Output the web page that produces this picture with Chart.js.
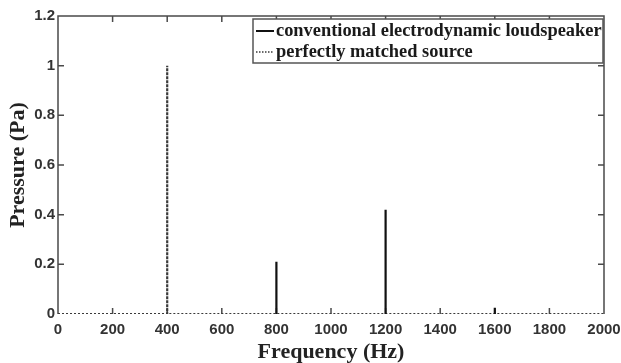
<!DOCTYPE html>
<html>
<head>
<meta charset="utf-8">
<script src="https://cdn.jsdelivr.net/npm/chart.js@4"></script>
<style>
html,body{margin:0;padding:0;background:#fff;}
#wrap{width:621px;height:363px;position:relative;}
</style>
</head>
<body>
<div id="wrap"><canvas id="c" width="621" height="363"></canvas></div>
<script>
// ---- data ----
const seriesNames = ['conventional electrodynamic loudspeaker', 'perfectly matched source'];
const conventionalFreqs = [800, 1200, 1600];
const conventionalAmps  = [0.21, 0.42, 0.025];
const matchedFreqs = [400];
const matchedAmps  = [1.0];
const xTicks = [0, 200, 400, 600, 800, 1000, 1200, 1400, 1600, 1800, 2000];
const yTicks = [0, 0.2, 0.4, 0.6, 0.8, 1, 1.2];
const xRange = [0, 2000];
const yRange = [0, 1.2];

// stems only (gaps between)
function stems(freqs, amps) {
  const pts = [];
  freqs.forEach((f, i) => { pts.push({x: f, y: 0}, {x: f, y: amps[i]}, {x: null, y: null}); });
  return pts;
}
// continuous spectrum line along baseline with stems
function stemLine(freqs, amps, x0, x1) {
  const pts = [{x: x0, y: 0}];
  freqs.forEach((f, i) => { pts.push({x: f, y: 0}, {x: f, y: amps[i]}, {x: f, y: 0}); });
  pts.push({x: x1, y: 0});
  return pts;
}

const AXIS = '#4a4a4a';
const TXT = '#333333';

const frameTicks = {
  id: 'frameTicks',
  beforeDatasetsDraw(chart) {
    const {ctx, chartArea: a, scales: {x, y}} = chart;
    ctx.save();
    ctx.strokeStyle = AXIS;
    ctx.lineWidth = 1.5;
    ctx.beginPath();
    // left, top, right frame (bottom is covered by dotted baseline)
    ctx.moveTo(a.left, a.bottom); ctx.lineTo(a.left, a.top);
    ctx.lineTo(a.right, a.top); ctx.lineTo(a.right, a.bottom);
    const L = 6;
    x.ticks.forEach(t => {
      const px = x.getPixelForValue(t.value);
      if (t.value === xRange[0] || t.value === xRange[1]) return;
      ctx.moveTo(px, a.bottom); ctx.lineTo(px, a.bottom - L);
      ctx.moveTo(px, a.top); ctx.lineTo(px, a.top + L);
    });
    y.ticks.forEach(t => {
      const py = y.getPixelForValue(t.value);
      if (t.value === yRange[0] || t.value === yRange[1]) return;
      ctx.moveTo(a.left, py); ctx.lineTo(a.left + L, py);
      ctx.moveTo(a.right, py); ctx.lineTo(a.right - L, py);
    });
    ctx.stroke();
    ctx.restore();
  },
  afterDatasetsDraw(chart) {
    const {ctx} = chart;
    const box = {l: 253, t: 19, w: 350, h: 44};
    ctx.save();
    ctx.fillStyle = '#fff';
    ctx.fillRect(box.l, box.t, box.w, box.h);
    ctx.strokeStyle = '#555';
    ctx.lineWidth = 1.5;
    ctx.strokeRect(box.l, box.t, box.w, box.h);
    ctx.font = 'bold 18.4px "Liberation Serif", "Times New Roman", serif';
    ctx.textBaseline = 'middle';
    chart.data.datasets.forEach((ds, i) => {
      const yy = box.t + 12 + i * 21;
      ctx.beginPath();
      ctx.strokeStyle = ds.borderColor;
      ctx.lineWidth = i === 0 ? 2 : 1.5;
      ctx.setLineDash(i === 0 ? [] : [1.5, 1.5]);
      ctx.moveTo(box.l + 3, yy); ctx.lineTo(box.l + 21, yy);
      ctx.stroke();
      ctx.setLineDash([]);
      ctx.fillStyle = '#1a1a1a';
      ctx.fillText(ds.label, box.l + 23, yy);
    });
    ctx.restore();
  }
};

new Chart(document.getElementById('c'), {
  type: 'line',
  data: {
    datasets: [
      {
        label: seriesNames[0],
        data: stems(conventionalFreqs, conventionalAmps),
        borderColor: '#111111',
        borderWidth: 2.2,
        pointRadius: 0,
        spanGaps: false,
        tension: 0
      },
      {
        label: seriesNames[1],
        data: stemLine(matchedFreqs, matchedAmps, xRange[0], xRange[1]),
        borderColor: '#3a3a3a',
        borderWidth: 2.2,
        borderDash: [2, 2],
        pointRadius: 0,
        tension: 0
      }
    ]
  },
  options: {
    responsive: false,
    animation: false,
    layout: {padding: {left: 0, top: 16, right: 17, bottom: 0}},
    plugins: {legend: {display: false}, tooltip: {enabled: false}},
    scales: {
      x: {
        type: 'linear',
        min: xRange[0], max: xRange[1],
        afterBuildTicks(s) { s.ticks = xTicks.map(v => ({value: v})); },
        afterFit(s) { s.height = 49; s.paddingRight = 0; s.paddingLeft = 0; },
        grid: {display: false, drawTicks: false},
        border: {display: false},
        ticks: {
          padding: 7,
          color: TXT,
          font: {family: '"Liberation Sans", Arial, sans-serif', size: 15, weight: 'bold'},
          maxRotation: 0,
          callback: v => String(v)
        },
        title: {
          display: true,
          text: 'Frequency (Hz)',
          color: '#222',
          font: {family: '"Liberation Serif", "Times New Roman", serif', size: 22, weight: 'bold', lineHeight: 1},
          padding: {top: 0, bottom: 0}
        }
      },
      y: {
        type: 'linear',
        min: yRange[0], max: yRange[1],
        afterBuildTicks(s) { s.ticks = yTicks.map(v => ({value: v})); },
        afterFit(s) { s.width = 58; s.paddingTop = 0; s.paddingBottom = 0; },
        grid: {display: false, drawTicks: false},
        border: {display: false},
        ticks: {
          padding: 3,
          color: TXT,
          font: {family: '"Liberation Sans", Arial, sans-serif', size: 15, weight: 'bold'},
          callback: v => String(Math.round(v * 10) / 10)
        },
        title: {
          display: true,
          text: 'Pressure (Pa)',
          color: '#222',
          font: {family: '"Liberation Serif", "Times New Roman", serif', size: 22, weight: 'bold', lineHeight: 1},
          padding: {top: 7, bottom: 0}
        }
      }
    }
  },
  plugins: [frameTicks]
});
</script>
</body>
</html>
